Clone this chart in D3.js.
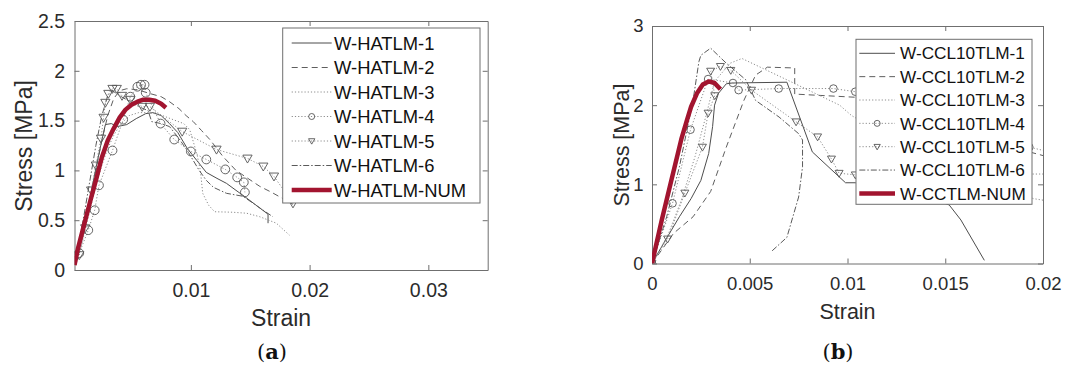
<!DOCTYPE html>
<html><head><meta charset="utf-8">
<script src="https://cdn.jsdelivr.net/npm/d3@7"></script>
<style>
html,body{margin:0;padding:0;background:#fff;}
svg{display:block;}
</style></head><body>
<svg id="fig" width="1065" height="367"></svg>
<script>
// ---------- Panel (a): W-HATLM specimens, stress vs strain ----------
const hatlmLabels = ["W-HATLM-1", "W-HATLM-2", "W-HATLM-3", "W-HATLM-4", "W-HATLM-5", "W-HATLM-6", "W-HATLM-NUM"];
const hatlm1 = [[0.0003,0.08],[0.001,0.42],[0.0015,0.72],[0.002,1.02],[0.0025,1.3],[0.0028,1.46],[0.0033,1.47],[0.0038,1.44],[0.0046,1.46],[0.0054,1.52],[0.0062,1.57],[0.0068,1.58],[0.0075,1.55],[0.0082,1.47],[0.0089,1.38],[0.0097,1.22],[0.0105,1.1],[0.0113,0.98],[0.0122,0.92],[0.013,0.87],[0.0138,0.8],[0.0145,0.74],[0.0155,0.65],[0.0165,0.56],[0.0165,0.47]];
const hatlm2 = [[0.0003,0.08],[0.001,0.4],[0.0015,0.7],[0.002,1.0],[0.0025,1.3],[0.003,1.55],[0.0035,1.72],[0.004,1.8],[0.0046,1.82],[0.0055,1.81],[0.0066,1.77],[0.0075,1.74],[0.0082,1.69],[0.009,1.62],[0.0096,1.55],[0.0102,1.49],[0.0109,1.4],[0.0116,1.31],[0.0127,1.14],[0.0138,1.0],[0.0148,0.92],[0.0158,0.84],[0.0168,0.78],[0.0177,0.72],[0.0186,0.66]];
const hatlm3 = [[0.0003,0.05],[0.001,0.35],[0.0015,0.6],[0.002,0.85],[0.0025,1.05],[0.003,1.22],[0.0035,1.35],[0.004,1.45],[0.0048,1.55],[0.0056,1.58],[0.0065,1.58],[0.0074,1.56],[0.0085,1.51],[0.0094,1.47],[0.0099,1.41],[0.0105,1.17],[0.0108,1.0],[0.011,0.77],[0.0115,0.65],[0.012,0.585],[0.0135,0.58],[0.0147,0.57],[0.0158,0.535],[0.0172,0.47],[0.0183,0.35]];
const hatlm4 = [[0.0006,0.17],[0.00136,0.4],[0.0019,0.6],[0.00226,0.85],[0.0034,1.2],[0.0043,1.51],[0.0049,1.74],[0.0055,1.84],[0.0058,1.86],[0.0061,1.86],[0.0062,1.78],[0.00745,1.47],[0.0086,1.31],[0.01,1.19],[0.0113,1.11],[0.0129,1.01],[0.0139,0.93],[0.01446,0.88],[0.01455,0.78]];
const hatlm5 = [[0.0006,0.15],[0.0011,0.42],[0.0016,0.8],[0.002,1.05],[0.00243,1.32],[0.00265,1.53],[0.0028,1.68],[0.00305,1.77],[0.0034,1.82],[0.00376,1.82],[0.0042,1.75],[0.0049,1.71],[0.0059,1.64],[0.00655,1.64],[0.00927,1.39],[0.01216,1.21],[0.01477,1.12],[0.0161,1.04],[0.017,0.94],[0.0186,0.67]];
const hatlm6 = [[0.0003,0.1],[0.001,0.55],[0.0015,0.9],[0.002,1.25],[0.0025,1.55],[0.003,1.75],[0.0034,1.8],[0.004,1.75],[0.005,1.68],[0.0058,1.63],[0.0064,1.6],[0.0067,1.49],[0.0075,1.47],[0.0082,1.44],[0.009,1.32],[0.0098,1.18],[0.0107,1.0],[0.0113,0.9],[0.0119,0.83],[0.013,0.77],[0.0144,0.74],[0.0156,0.64],[0.0169,0.535]];
const hatlmNum = [[0.0002,0.05],[0.0005,0.22],[0.001,0.45],[0.0015,0.68],[0.002,0.9],[0.0025,1.13],[0.003,1.3],[0.0035,1.42],[0.004,1.53],[0.0045,1.61],[0.005,1.66],[0.0055,1.69],[0.006,1.71],[0.0065,1.71],[0.007,1.7],[0.0075,1.67],[0.0079,1.63]];
const hatlmXTicks = [0.01, 0.02, 0.03];
const hatlmXTickLabels = ["0.01", "0.02", "0.03"];
const hatlmYTicks = [0, 0.5, 1, 1.5, 2, 2.5];
const hatlmYTickLabels = ["0", "0.5", "1", "1.5", "2", "2.5"];

// ---------- Panel (b): W-CCL10TLM specimens, stress vs strain ----------
const ccLabels = ["W-CCL10TLM-1", "W-CCL10TLM-2", "W-CCL10TLM-3", "W-CCL10TLM-4", "W-CCL10TLM-5", "W-CCL10TLM-6", "W-CCTLM-NUM"];
const cc1 = [[0,0],[0.0007,0.3],[0.0014,0.59],[0.002,0.82],[0.0025,1.05],[0.0029,1.39],[0.0031,1.73],[0.0032,2.0],[0.0034,2.15],[0.0038,2.27],[0.0041,2.28],[0.0069,2.29],[0.0082,1.41],[0.0099,1.02],[0.0104,1.02],[0.012,0.93],[0.0145,0.8],[0.0152,0.74],[0.0158,0.55],[0.017,0.04]];
const cc2 = [[0,0],[0.0011,0.38],[0.0021,0.59],[0.003,0.91],[0.0038,1.47],[0.0047,2.06],[0.0053,2.38],[0.0059,2.48],[0.0073,2.47],[0.0073,2.14],[0.0104,2.1],[0.015,1.75],[0.0193,1.41],[0.0205,1.33]];
const cc3 = [[0,0],[0.0008,0.35],[0.0015,0.8],[0.0022,1.35],[0.0028,1.9],[0.0032,2.3],[0.004,2.53],[0.0046,2.59],[0.0069,2.32],[0.0096,2.0],[0.0102,1.87],[0.0135,1.4],[0.0175,1.05],[0.0195,0.82],[0.0205,0.78]];
const cc4 = [[0,0],[0.00105,0.76],[0.00197,1.69],[0.00287,2.33],[0.00414,2.28],[0.00443,2.19],[0.00648,2.21],[0.00928,2.21],[0.0104,2.17],[0.015,1.8],[0.0193,1.47],[0.0205,1.4]];
const cc5 = [[0,0],[0.0008,0.31],[0.00168,0.89],[0.00258,1.47],[0.00287,1.9],[0.00321,2.12],[0.003,2.43],[0.0035,2.49],[0.00403,2.44],[0.00509,2.19],[0.00737,1.79],[0.00847,1.6],[0.00918,1.32],[0.00957,1.14],[0.0104,1.12],[0.015,1.13],[0.0205,1.13]];
const cc6 = [[0,0],[0.00075,0.59],[0.0014,1.22],[0.0021,2.06],[0.0024,2.55],[0.0025,2.63],[0.003,2.72],[0.0038,2.53],[0.0048,2.32],[0.0053,2.06],[0.0065,1.85],[0.0075,1.64],[0.0077,1.56],[0.0077,1.22],[0.0075,0.84],[0.0069,0.33],[0.0061,0.15]];
const ccNum = [[0,0],[0.0002,0.22],[0.0005,0.55],[0.001,1.06],[0.0015,1.57],[0.0018,1.82],[0.002,1.98],[0.0023,2.15],[0.0026,2.26],[0.0029,2.3],[0.0032,2.28],[0.0035,2.2]];
const ccXTicks = [0, 0.005, 0.01, 0.015, 0.02];
const ccXTickLabels = ["0", "0.005", "0.01", "0.015", "0.02"];
const ccYTicks = [0, 1, 2, 3];
const ccYTickLabels = ["0", "1", "2", "3"];

const xTitle = "Strain";
const yTitle = "Stress [MPa]";

// Line styles shared by both panels (series 1..6 then the numerical curve)
const styles = [
  {stroke: "#4d4d4d", width: 1,   dash: null},
  {stroke: "#5e5e5e", width: 1,   dash: "6,4"},
  {stroke: "#8c8c8c", width: 1,   dash: "1.2,2"},
  {stroke: "#8c8c8c", width: 1,   dash: "1.2,2", marker: "circle"},
  {stroke: "#8c8c8c", width: 1,   dash: "1.2,2", marker: "triangle"},
  {stroke: "#5a5a5a", width: 1,   dash: "6,2,1.5,2"},
  {stroke: "#A2142F", width: 4.5, dash: null}
];

const SANS = "'Liberation Sans', Arial, Helvetica, sans-serif";
const AXIS_COLOR = "#6f6f6f";
const TEXT_COLOR = "#2b2b2b";
const MARKER_COLOR = "#555";

const panels = [
  {
    id: "a", caption: "a",
    frame: {left: 74.5, right: 487.7, top: 21, bottom: 270},
    xDomain: [0.0002, 0.035], yDomain: [0, 2.5],
    xTicks: hatlmXTicks, xTickLabels: hatlmXTickLabels,
    yTicks: hatlmYTicks, yTickLabels: hatlmYTickLabels,
    series: [hatlm1, hatlm2, hatlm3, hatlm4, hatlm5, hatlm6, hatlmNum],
    labels: hatlmLabels,
    tickFont: 19.5, titleFont: 23, legendFont: 18.4,
    xPad: 13, yPad: 9.5, xTitleY: 326, yTitleX: 32, yTitleY: 146,
    markerR: 4.4, legendMarkerR: 3,
    legend: {x0: 282.7, x1: 480, y0: 28, y1: 203, sx0: 291.7, sx1: 331.7, tx: 334, rows: 43, dy: 24.5},
    capX: 272, capY: 359
  },
  {
    id: "b", caption: "b",
    frame: {left: 652, right: 1043, top: 26, bottom: 263.5},
    xDomain: [0, 0.02], yDomain: [0, 3],
    xTicks: ccXTicks, xTickLabels: ccXTickLabels,
    yTicks: ccYTicks, yTickLabels: ccYTickLabels,
    series: [cc1, cc2, cc3, cc4, cc5, cc6, ccNum],
    labels: ccLabels,
    tickFont: 18.5, titleFont: 21.5, legendFont: 17.2,
    xPad: 13.4, yPad: 8.5, xTitleY: 318.5, yTitleX: 629, yTitleY: 145,
    markerR: 3.8, legendMarkerR: 3,
    legend: {x0: 856, x1: 1032, y0: 39.3, y1: 204.3, sx0: 859.3, sx1: 895, tx: 900, rows: 53.3, dy: 23.35},
    capX: 838, capY: 359
  }
];

const svg = d3.select("#fig");

function trianglePath(r) {
  // downward-pointing triangle centred on the data point
  const w = r * 1.05, h = r * 0.95;
  return `M${-w},${-h * 0.8}L${w},${-h * 0.8}L0,${h * 1.1}Z`;
}

function drawMarkers(g, pts, kind, r) {
  if (kind === "circle") {
    g.selectAll(null).data(pts).join("circle")
      .attr("cx", d => d[0]).attr("cy", d => d[1]).attr("r", r)
      .attr("fill", "none").attr("stroke", MARKER_COLOR).attr("stroke-width", 0.9);
  } else if (kind === "triangle") {
    g.selectAll(null).data(pts).join("path")
      .attr("transform", d => `translate(${d[0]},${d[1]})`)
      .attr("d", trianglePath(r))
      .attr("fill", "none").attr("stroke", MARKER_COLOR).attr("stroke-width", 0.9);
  }
}

panels.forEach(p => {
  const f = p.frame;
  const x = d3.scaleLinear().domain(p.xDomain).range([f.left, f.right]);
  const y = d3.scaleLinear().domain(p.yDomain).range([f.bottom, f.top]);
  const g = svg.append("g").attr("class", "panel-" + p.id);

  g.append("clipPath").attr("id", "clip-" + p.id)
    .append("rect").attr("x", f.left).attr("y", f.top)
    .attr("width", f.right - f.left).attr("height", f.bottom - f.top);

  // axes box with inward ticks on all four sides
  const tick = 5;
  const bottomAxis = d3.axisBottom(x).tickValues(p.xTicks)
    .tickFormat((d, i) => p.xTickLabels[i]).tickSizeInner(-tick).tickSizeOuter(0).tickPadding(p.xPad);
  const topAxis = d3.axisTop(x).tickValues(p.xTicks).tickFormat("").tickSizeInner(-tick).tickSizeOuter(0);
  const leftAxis = d3.axisLeft(y).tickValues(p.yTicks)
    .tickFormat((d, i) => p.yTickLabels[i]).tickSizeInner(-tick).tickSizeOuter(0).tickPadding(p.yPad);
  const rightAxis = d3.axisRight(y).tickValues(p.yTicks).tickFormat("").tickSizeInner(-tick).tickSizeOuter(0);

  const axes = [
    [bottomAxis, `translate(0,${f.bottom})`],
    [topAxis, `translate(0,${f.top})`],
    [leftAxis, `translate(${f.left},0)`],
    [rightAxis, `translate(${f.right},0)`]
  ];
  axes.forEach(([ax, tr]) => {
    const a = g.append("g").attr("transform", tr).call(ax);
    a.select(".domain").attr("stroke", AXIS_COLOR).attr("stroke-width", 1);
    a.selectAll(".tick line").attr("stroke", AXIS_COLOR).attr("stroke-width", 1);
    a.selectAll(".tick text").attr("fill", TEXT_COLOR)
      .style("font-family", SANS).style("font-size", p.tickFont + "px");
  });

  // data curves
  const line = d3.line().x(d => x(d[0])).y(d => y(d[1]));
  const plot = g.append("g").attr("clip-path", `url(#clip-${p.id})`);
  p.series.forEach((s, i) => {
    const st = styles[i];
    plot.append("path").datum(s).attr("d", line)
      .attr("fill", "none").attr("stroke", st.stroke).attr("stroke-width", st.width)
      .attr("stroke-dasharray", st.dash).attr("stroke-linejoin", "round")
      .attr("stroke-linecap", i === 6 ? "butt" : null);
    if (st.marker) {
      drawMarkers(plot.append("g"), s.map(d => [x(d[0]), y(d[1])]), st.marker, p.markerR);
    }
  });

  // axis titles
  g.append("text").attr("x", (f.left + f.right) / 2 + (p.id === "a" ? 0 : 0)).attr("y", p.xTitleY)
    .attr("text-anchor", "middle").attr("fill", TEXT_COLOR)
    .style("font-family", SANS).style("font-size", p.titleFont + "px").text(xTitle);
  g.append("text").attr("transform", `translate(${p.yTitleX},${p.yTitleY}) rotate(-90)`)
    .attr("text-anchor", "middle").attr("fill", TEXT_COLOR)
    .style("font-family", SANS).style("font-size", p.titleFont + "px").text(yTitle);

  // legend
  const L = p.legend;
  const lg = g.append("g");
  lg.append("rect").attr("x", L.x0).attr("y", L.y0).attr("width", L.x1 - L.x0).attr("height", L.y1 - L.y0)
    .attr("fill", "#fff").attr("stroke", AXIS_COLOR).attr("stroke-width", 1);
  p.labels.forEach((lab, i) => {
    const st = styles[i];
    const ry = L.rows + i * L.dy;
    lg.append("line").attr("x1", L.sx0).attr("x2", L.sx1).attr("y1", ry).attr("y2", ry)
      .attr("stroke", st.stroke).attr("stroke-width", st.width).attr("stroke-dasharray", st.dash);
    if (st.marker) drawMarkers(lg.append("g"), [[(L.sx0 + L.sx1) / 2, ry]], st.marker, p.legendMarkerR);
    lg.append("text").attr("x", L.tx).attr("y", ry).attr("dy", "0.36em").attr("fill", "#111")
      .style("font-family", SANS).style("font-size", p.legendFont + "px").text(lab);
  });

  // panel caption
  const cap = svg.append("text").attr("x", p.capX).attr("y", p.capY).attr("text-anchor", "middle")
    .attr("fill", "#111").style("font-family", "'DejaVu Serif', 'Liberation Serif', serif").style("font-size", "21px");
  cap.append("tspan").text("(");
  cap.append("tspan").attr("font-weight", "bold").text(p.caption);
  cap.append("tspan").text(")");
});
</script>
</body></html>
